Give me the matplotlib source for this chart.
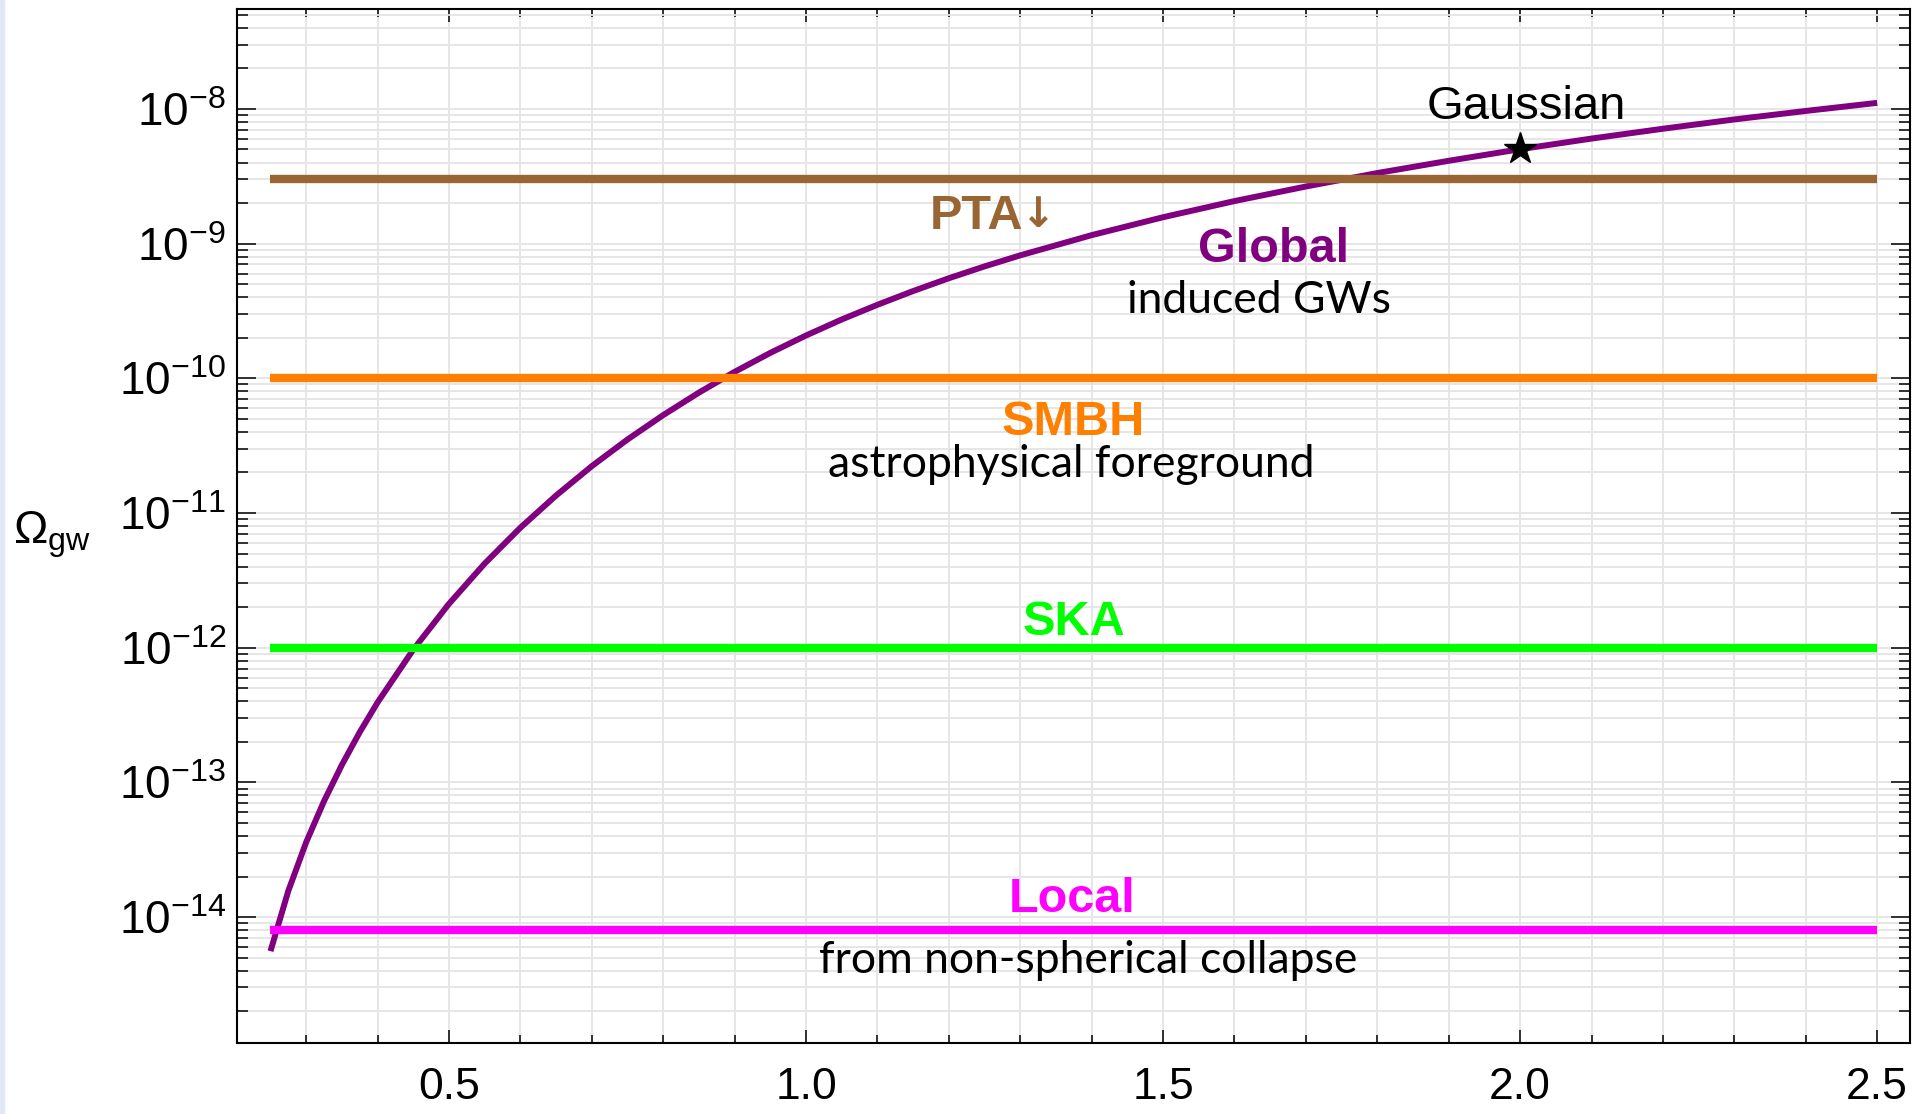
import matplotlib
matplotlib.use("Agg")
import numpy as np
import matplotlib.pyplot as plt
from matplotlib.ticker import MultipleLocator, FixedLocator, FuncFormatter, NullFormatter, FormatStrFormatter
from matplotlib.patches import Rectangle

plt.rcParams['font.family'] = ['Liberation Sans', 'DejaVu Sans']
plt.rcParams['mathtext.fontset'] = 'custom'
plt.rcParams['mathtext.rm'] = 'Liberation Sans'
plt.rcParams['mathtext.it'] = 'Liberation Sans:italic'
plt.rcParams['mathtext.bf'] = 'Liberation Sans:bold'

# induced GW amplitude (global curve), stored as log10(Omega_gw)
curve_x = [0.25, 0.275, 0.30, 0.325, 0.35, 0.375, 0.40, 0.45, 0.50, 0.55,
           0.60, 0.65, 0.70, 0.75, 0.80, 0.85, 0.90, 0.95, 1.00, 1.05,
           1.10, 1.15, 1.20, 1.25, 1.30, 1.40, 1.50, 1.60, 1.70, 1.80,
           1.90, 2.00, 2.10, 2.20, 2.30, 2.40, 2.50]
curve_log_omega = [-14.253, -13.805, -13.444, -13.139, -12.870, -12.627, -12.406, -12.014, -11.674, -11.375,
                   -11.109, -10.870, -10.652, -10.454, -10.273, -10.106, -9.952, -9.811, -9.682, -9.563,
                   -9.454, -9.352, -9.257, -9.169, -9.087, -8.937, -8.804, -8.684, -8.576, -8.476,
                   -8.385, -8.299, -8.220, -8.147, -8.078, -8.015, -7.955]

# constant levels: PTA bound, SMBH foreground, SKA reach, local (non-spherical collapse)
level_names = ['PTA', 'SMBH', 'SKA', 'Local']
level_omega = [3e-9, 1e-10, 1e-12, 8e-15]
level_x = [0.25, 2.5]

# gaussian reference point
gauss_x = [2.0]
gauss_omega = [5e-9]

# decades shown on the y axis
y_decades = [-14, -13, -12, -11, -10, -9, -8]

level_colors = ['#996633', '#ff8000', '#00ff00', '#ff00ff']
purple = '#800080'

fig = plt.figure(figsize=(19.17, 11.14), dpi=100)
fig.patches.append(Rectangle((0, 0), 4 / 1917, 1, transform=fig.transFigure,
                             color='#dfe8f4', zorder=0))
ax = fig.add_axes([237 / 1917, 1 - 1043 / 1114, 1673 / 1917, 1034 / 1114])

for val, col in zip(level_omega, level_colors):
    ax.plot(level_x, [val, val], color=col, lw=6, solid_capstyle='butt', zorder=3)
ax.plot(curve_x, np.power(10.0, curve_log_omega), color=purple, lw=4.3,
        solid_joinstyle='round', solid_capstyle='butt', zorder=2)
ax.plot(gauss_x, gauss_omega, marker='*', color='black', ms=24, ls='none', zorder=5)

ax.set_yscale('log')
ax.set_xlim(0.2031, 2.546)
ax.set_ylim(10 ** -14.935, 10 ** -7.258)

ax.xaxis.set_major_locator(MultipleLocator(0.5))
ax.xaxis.set_minor_locator(MultipleLocator(0.1))
ax.xaxis.set_major_formatter(FormatStrFormatter('%.1f'))

major_y = [10.0 ** d for d in y_decades]
minor_y = [m * 10.0 ** d for d in [-15] + y_decades for m in range(2, 10)]
minor_y = [v for v in minor_y if 10 ** -14.935 < v < 10 ** -7.258]
ax.yaxis.set_major_locator(FixedLocator(major_y))
ax.yaxis.set_minor_locator(FixedLocator(minor_y))
ax.yaxis.set_minor_formatter(NullFormatter())
ax.yaxis.set_major_formatter(FuncFormatter(lambda v, _: r'$10^{%d}$' % round(np.log10(v))))

ax.grid(which='both', color='#e4e4e4', lw=1.3)
ax.set_axisbelow(True)
for s in ax.spines.values():
    s.set_linewidth(1.5)

ax.tick_params(which='both', direction='in', top=True, right=True, width=1.1, colors='black')
ax.tick_params(axis='x', which='major', length=9.5, pad=17, labelsize=32)
ax.tick_params(axis='x', which='minor', length=5.8)
ax.tick_params(axis='y', which='major', length=13.5, pad=8, labelsize=33)
ax.tick_params(axis='y', which='minor', length=8)

fig.text(13 / 1917, 1 - 535 / 1114, r'$\Omega_{\rm gw}$', fontsize=33, ha='left', va='center')

bold = dict(fontsize=35, fontweight='bold', va='center', zorder=6)
note = dict(fontsize=32, family='Lato', ha='center', va='center', zorder=6)

ax.text(1.304, 10 ** -8.80, 'PTA', color=level_colors[0], ha='right', **bold)
ax.text(1.301, 10 ** -8.79, '\u2193', color=level_colors[0], ha='left',
        family=['DejaVu Sans'], fontsize=30, fontweight='bold', va='center', zorder=6)
ax.text(1.655, 10 ** -9.04, 'Global', color=purple, ha='center', **bold)
ax.text(1.634, 10 ** -9.42, 'induced GWs', color='black', **note)
ax.text(1.374, 10 ** -10.33, 'SMBH', color=level_colors[1], ha='center', **bold)
ax.text(1.372, 10 ** -10.64, 'astrophysical foreground', color='black', **note)
ax.text(1.375, 10 ** -11.81, 'SKA', color=level_colors[2], ha='center', **bold)
ax.text(1.373, 10 ** -13.87, 'Local', color=level_colors[3], ha='center', **bold)
ax.text(1.395, 10 ** -14.32, 'from non-spherical collapse', color='black', **note)
ax.text(2.008, 10 ** -7.982, 'Gaussian', color='black', fontsize=34, ha='center', va='center', zorder=6)

fig.savefig('out.png', dpi=100)
